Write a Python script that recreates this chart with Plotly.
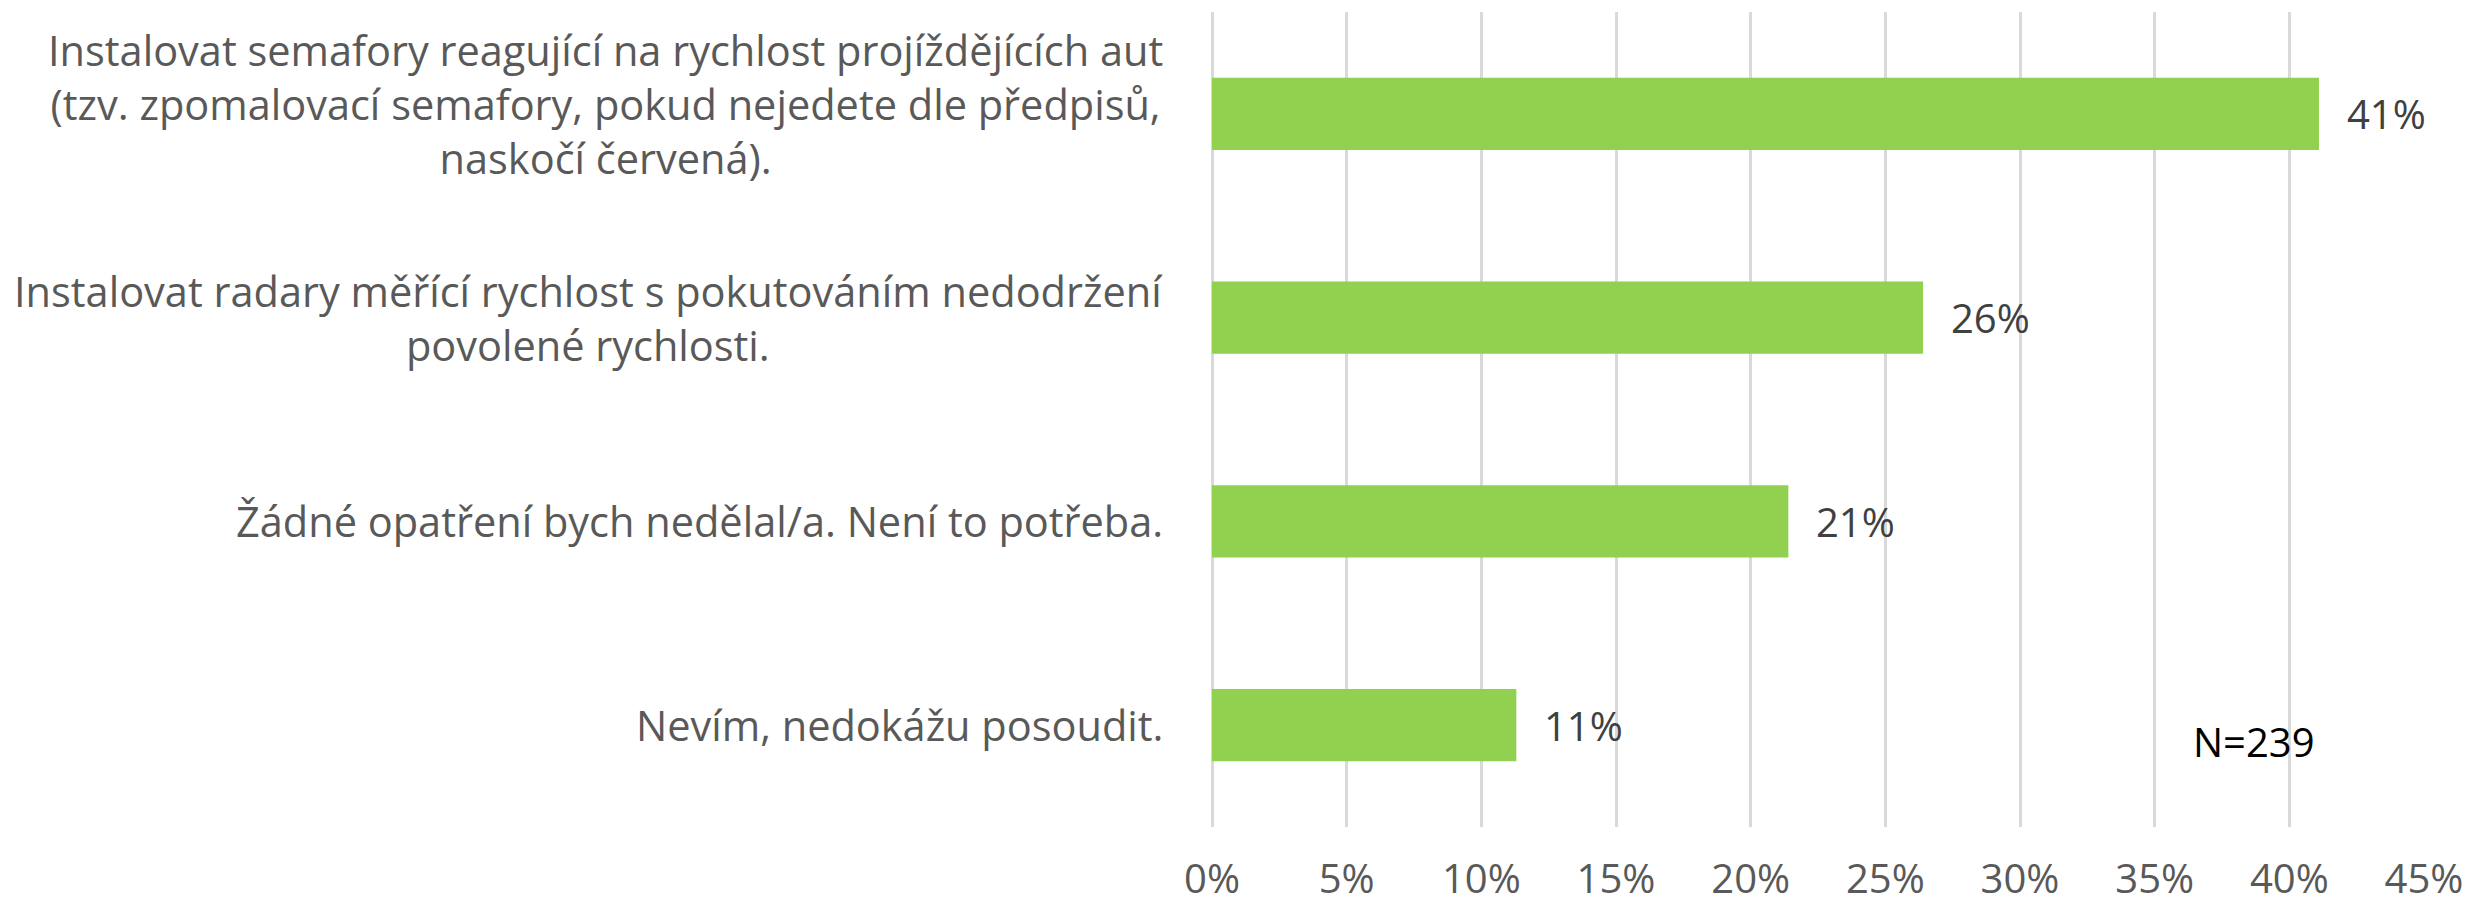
import plotly.graph_objects as go

categories = [
    "Instalovat semafory reagující na rychlost projíždějících aut<br>(tzv. zpomalovací semafory, pokud nejedete dle předpisů,<br>naskočí červená).",
    "Instalovat radary měřící rychlost s pokutováním nedodržení<br>povolené rychlosti.",
    "Žádné opatření bych nedělal/a. Není to potřeba.",
    "Nevím, nedokážu posoudit.",
]
values = [0.411, 0.264, 0.214, 0.113]
tick_values = [0, 0.05, 0.10, 0.15, 0.20, 0.25, 0.30, 0.35, 0.40, 0.45]
note_text = "N=239"

FONT = "'Open Sans', Lato, sans-serif"
SIZE = 40
LABEL_SIZE = 41.5

fig = go.Figure()
fig.add_trace(go.Bar(
    x=values,
    y=categories,
    orientation="h",
    marker=dict(color="#92D050", line=dict(width=0)),
    width=0.355,
    hoverinfo="skip",
))

# data labels
for c, v in zip(categories, values):
    fig.add_annotation(
        x=v, y=c, xref="x", yref="y",
        text=f"{v:.0%}", showarrow=False,
        xanchor="left", yanchor="middle", xshift=26,
        font=dict(family=FONT, size=SIZE, color="#404040"),
    )

# category labels (centered lines, right-aligned block)
for i, c in enumerate(categories):
    fig.add_annotation(
        x=0, y=c, xref="paper", yref="y",
        text=c, showarrow=False, align="center",
        xanchor="right", yanchor="middle", xshift=-47,
        yshift=10 if i == 0 else 0,
        font=dict(family=FONT, size=LABEL_SIZE, color="#595959"),
    )

fig.add_annotation(
    x=0.387, y=3.08, xref="x", yref="y",
    text=note_text, showarrow=False,
    xanchor="center", yanchor="middle",
    font=dict(family=FONT, size=SIZE, color="#000000"),
)

# page body has an 8px default margin, so the figure is sized to fit the window
fig.update_layout(
    width=2465, height=896,
    margin=dict(l=1204, r=49, t=4, b=77, autoexpand=False),
    paper_bgcolor="white", plot_bgcolor="white",
    showlegend=False,
    xaxis=dict(
        range=[0, 0.45],
        tickvals=tick_values,
        tickformat=".0%",
        showgrid=True, gridcolor="#D9D9D9", gridwidth=3,
        zeroline=True, zerolinecolor="#D9D9D9", zerolinewidth=3,
        showline=False, automargin=False,
        ticks="", ticklabelstandoff=25,
        tickfont=dict(family=FONT, size=SIZE, color="#595959"),
    ),
    yaxis=dict(
        autorange="reversed", automargin=False,
        showticklabels=False, showgrid=False, zeroline=False, showline=False,
        ticks="",
    ),
)

fig.write_html("out.html")
